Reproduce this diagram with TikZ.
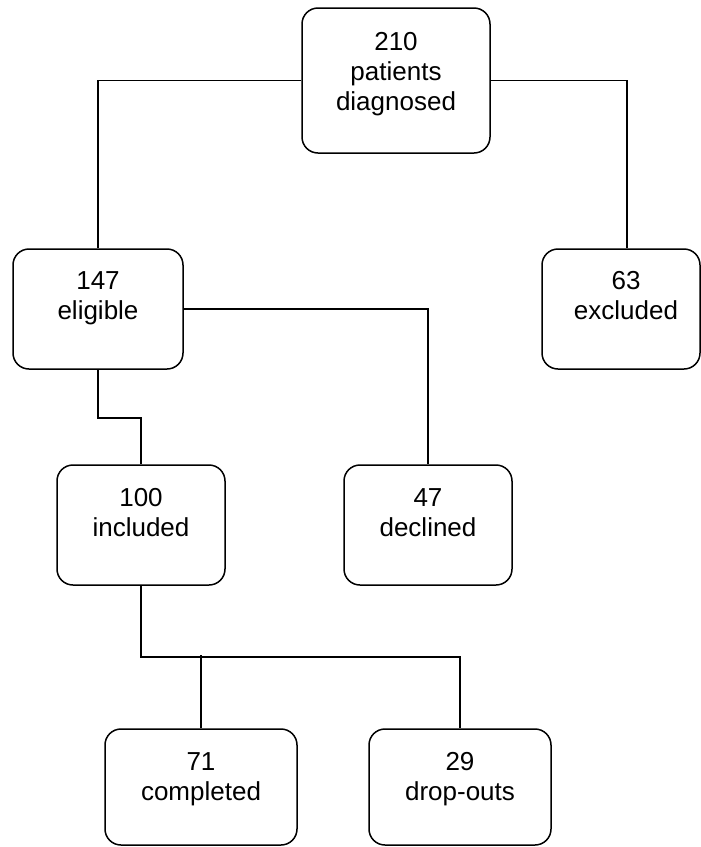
\documentclass[tikz,border=0pt]{standalone}
\usepackage{fontspec}
\setmainfont{Liberation Sans}
\begin{document}
\begin{tikzpicture}[x=1pt,y=-1pt,
  box/.style={draw, line width=1.5pt, rounded corners=16pt, inner sep=0pt},
  lbl/.style={anchor=base, inner sep=0pt, font=\fontsize{26}{30}\selectfont},
  link/.style={line width=1.5pt}]
\useasboundingbox (0,0) rectangle (701,847);
% boxes
\node[box, minimum width=188pt, minimum height=145pt] (top)  at (396,80.5) {};
\node[box, minimum width=170pt, minimum height=120pt] (elig) at (98,309) {};
\node[box, minimum width=158pt, minimum height=120pt] (excl) at (621,309) {};
\node[box, minimum width=168pt, minimum height=120pt] (incl) at (141,525) {};
\node[box, minimum width=168pt, minimum height=120pt] (decl) at (428,525) {};
\node[box, minimum width=192pt, minimum height=116pt] (comp) at (201,787) {};
\node[box, minimum width=182pt, minimum height=116pt] (drop) at (460,787) {};
% texts
\node[lbl] (topt)  at (396,50)  {\begin{tabular}[t]{@{}c@{}}210\\patients\\diagnosed\end{tabular}};
\node[lbl] (eligt) at (98,289)  {\begin{tabular}[t]{@{}c@{}}147\\eligible\end{tabular}};
\node[lbl] (exclt) at (626,289) {\begin{tabular}[t]{@{}c@{}}63\\excluded\end{tabular}};
\node[lbl] (inclt) at (141,506) {\begin{tabular}[t]{@{}c@{}}100\\included\end{tabular}};
\node[lbl] (declt) at (428,506) {\begin{tabular}[t]{@{}c@{}}47\\declined\end{tabular}};
\node[lbl] (compt) at (201,770) {\begin{tabular}[t]{@{}c@{}}71\\completed\end{tabular}};
\node[lbl] (dropt) at (460,770) {\begin{tabular}[t]{@{}c@{}}29\\drop-outs\end{tabular}};
% connectors
\draw[link] (top.west) -| (elig.north);
\draw[link] (top.east) -| ([xshift=6pt]excl.north);
\draw[link] (elig.east) -| (decl.north);
\draw[link] (elig.south) -- ++(0,48) -| (incl.north);
\draw[link] (incl.south) -- ++(0,71) -| (drop.north);
\draw[link] (comp.north) -- ++(0,-73);
\end{tikzpicture}
\end{document}
